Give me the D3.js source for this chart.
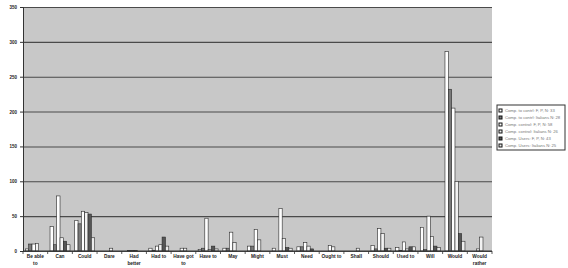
<!DOCTYPE html>
<html lang="en-US">
  <head>
    <meta charset="utf-8" />
    <script src="https://d3js.org/d3.v7.min.js"></script>
    <style>
      body { margin: 0; background: #fff; }
      svg text { font-family: "Liberation Sans", Arial, sans-serif; }
    </style>
  </head>
  <body>
    <div id="chart"></div>
    <script>
      var categories = [
        "Be able to", "Can", "Could", "Dare", "Had better", "Had to",
        "Have got to", "Have to", "May", "Might", "Must", "Need",
        "Ought to", "Shall", "Should", "Used to", "Will", "Would",
        "Would rather",
      ];
      // label lines as they wrap under the axis
      var catLines = [
        ["Be able", "to"], ["Can"], ["Could"], ["Dare"], ["Had", "better"],
        ["Had to"], ["Have got", "to"], ["Have to"], ["May"], ["Might"],
        ["Must"], ["Need"], ["Ought to"], ["Shall"], ["Should"],
        ["Used to"], ["Will"], ["Would"], ["Would", "rather"],
      ];
      var seriesNames = [
        "Comp. to contrl: F, P, N: 33",
        "Comp. to contrl: Italians N: 28",
        "Comp. control: F, P, N: 58",
        "Comp. control: Italians N: 26",
        "Comp. Users: F, P, N: 43",
        "Comp. Users: Italians N: 25",
      ];
      var s1 = [3, 35, 44, 0, 0, 4, 0, 2, 4, 7, 4, 6, 0, 0, 8, 5, 34, 286, 0];
      var s2 = [10, 9, 39, 0, 1, 1, 0, 4, 4, 7, 0, 6, 0, 0, 3, 1, 2, 232, 0];
      var s3 = [10, 79, 57, 0, 1, 7, 4, 47, 27, 31, 61, 12, 8, 0, 32, 13, 50, 205, 3];
      var s4 = [11, 19, 55, 4, 1, 9, 4, 2, 12, 16, 18, 7, 6, 4, 25, 3, 21, 100, 20];
      var s5 = [0, 14, 53, 0, 0, 20, 0, 7, 0, 0, 5, 3, 0, 0, 4, 6, 7, 25, 0];
      var s6 = [0, 9, 19, 0, 0, 7, 0, 3, 0, 0, 4, 0, 0, 0, 4, 6, 5, 14, 0];
      var series = [s1, s2, s3, s4, s5, s6];
      var yTicks = [0, 50, 100, 150, 200, 250, 300, 350];

      var colors = ["#ffffff", "#7a7a7a", "#ffffff", "#f2f2f2", "#555555", "#ececec"];

      var width = 568, height = 268;
      var margin = { top: 7, right: 76, bottom: 17, left: 23 };
      var plotW = width - margin.left - margin.right;
      var plotH = height - margin.top - margin.bottom;

      var svg = d3.select("#chart").append("svg")
        .attr("width", width).attr("height", height);

      var g = svg.append("g")
        .attr("transform", "translate(" + margin.left + "," + margin.top + ")");

      var x0 = d3.scaleBand().domain(categories).range([0, plotW])
        .paddingInner(0.19).paddingOuter(0.095);
      var x1 = d3.scaleBand().domain(d3.range(series.length))
        .range([0, x0.bandwidth()]).padding(0);
      var y = d3.scaleLinear().domain([0, 350]).range([plotH, 0]);

      g.append("rect")
        .attr("width", plotW).attr("height", plotH)
        .attr("fill", "#c8c8c8");

      // gridlines
      g.append("g")
        .call(d3.axisLeft(y).tickValues(yTicks).tickSize(-plotW).tickFormat(""))
        .call(function (sel) {
          sel.select(".domain").remove();
          sel.selectAll("line").attr("stroke", "#4a4a4a").attr("stroke-width", 1.1);
        });

      // bars
      var groups = g.selectAll(".grp")
        .data(categories).enter().append("g")
        .attr("transform", function (d) { return "translate(" + x0(d) + ",0)"; });

      groups.selectAll("rect")
        .data(function (d, i) {
          return series.map(function (s, k) { return { k: k, v: s[i] }; });
        })
        .enter().append("rect")
        .filter(function (d) { return d.v > 0; })
        .attr("x", function (d) { return x1(d.k); })
        .attr("width", x1.bandwidth())
        .attr("y", function (d) { return y(d.v); })
        .attr("height", function (d) { return plotH - y(d.v); })
        .attr("fill", function (d) { return colors[d.k]; })
        .attr("stroke", "#2a2a2a")
        .attr("stroke-width", 0.6);

      // y axis
      var yAxis = g.append("g")
        .call(d3.axisLeft(y).tickValues(yTicks).tickSize(3).tickPadding(3));
      yAxis.select(".domain").attr("stroke", "#333").attr("stroke-width", 1);
      yAxis.selectAll("line").attr("stroke", "#333");
      yAxis.selectAll("text")
        .attr("font-size", "4.5px").attr("font-weight", "bold").attr("fill", "#222");

      // x axis with ticks at category boundaries
      var xAxis = g.append("g").attr("transform", "translate(0," + plotH + ")");
      xAxis.append("line").attr("x1", 0).attr("x2", plotW)
        .attr("stroke", "#333").attr("stroke-width", 1);
      var step = x0.step();
      xAxis.selectAll(".bt")
        .data(d3.range(categories.length + 1)).enter().append("line")
        .attr("x1", function (d) { return d * step; })
        .attr("x2", function (d) { return d * step; })
        .attr("y1", 0).attr("y2", 3)
        .attr("stroke", "#333").attr("stroke-width", 0.8);

      xAxis.selectAll(".lab")
        .data(categories).enter().append("text")
        .attr("x", function (d) { return x0(d) + x0.bandwidth() / 2; })
        .attr("y", 7)
        .attr("text-anchor", "middle")
        .attr("font-size", "4.8px").attr("font-weight", "bold").attr("fill", "#222")
        .each(function (d, i) {
          var t = d3.select(this);
          catLines[i].forEach(function (line, j) {
            t.append("tspan")
              .attr("x", x0(d) + x0.bandwidth() / 2)
              .attr("dy", j === 0 ? 0 : 7)
              .text(line);
          });
        });

      // legend
      var lg = svg.append("g").attr("transform", "translate(497,105)");
      lg.append("rect").attr("width", 68).attr("height", 45)
        .attr("fill", "#fff").attr("stroke", "#333").attr("stroke-width", 1);
      var items = lg.selectAll(".it").data(seriesNames).enter().append("g")
        .attr("transform", function (d, i) { return "translate(2," + (4 + i * 7) + ")"; });
      items.append("rect")
        .attr("width", 3).attr("height", 3)
        .attr("fill", function (d, i) { return colors[i]; })
        .attr("stroke", "#111").attr("stroke-width", 1);
      items.append("text")
        .attr("x", 6).attr("y", 3)
        .attr("font-size", "4.2px").attr("fill", "#777")
        .text(function (d) { return d; });
    </script>
  </body>
</html>
